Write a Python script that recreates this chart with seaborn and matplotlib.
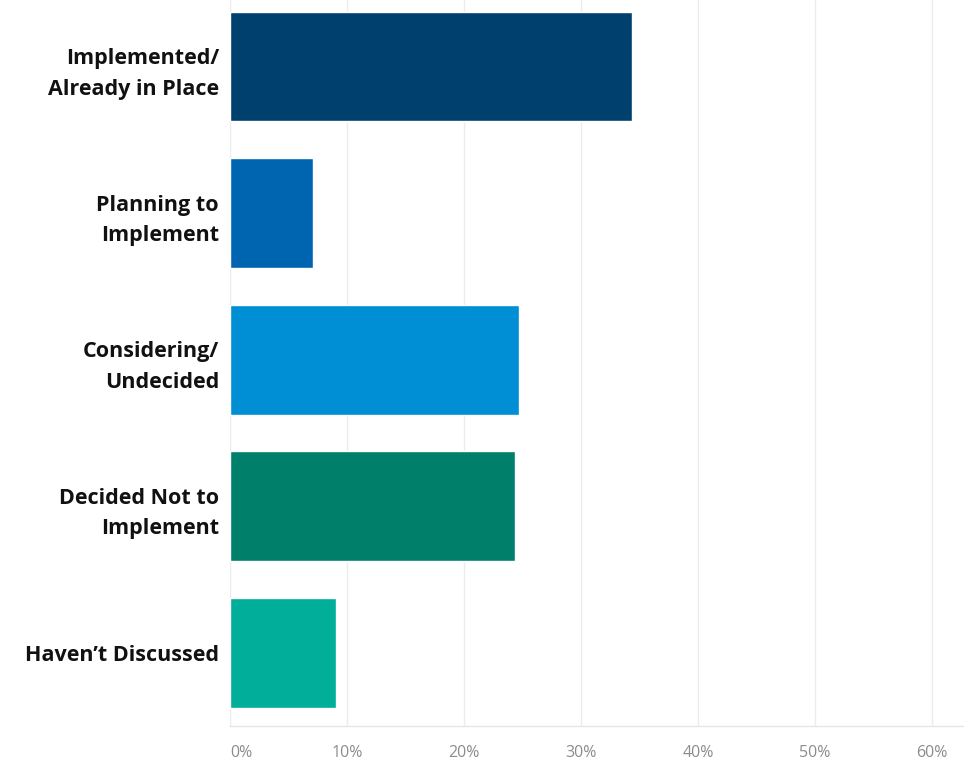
import matplotlib
matplotlib.use("Agg")
import matplotlib.pyplot as plt
import seaborn as sns
import pandas as pd
from matplotlib.ticker import FuncFormatter

categories = ["Implemented/\nAlready in Place", "Planning to\nImplement", "Considering/\nUndecided",
              "Decided Not to\nImplement", "Haven\u2019t Discussed"]
values = [34.4, 7.1, 24.7, 24.4, 9.1]
colors = ["#00406e", "#0065b1", "#008fd5", "#007f6a", "#00ae99"]
xticks = [0, 10, 20, 30, 40, 50, 60]

sns.set_theme(style="white")
plt.rcParams['font.family'] = ['Open Sans', 'DejaVu Sans']

df = pd.DataFrame({"cat": categories, "val": values})

fig = plt.figure(figsize=(9.73, 7.62), dpi=100)
ax = fig.add_axes([230/973, 36/762, 733/973, 726/762])
sns.barplot(data=df, x="val", y="cat", hue="cat", palette=colors, legend=False,
            width=0.75, ax=ax, saturation=1, zorder=3)

ax.set_xlim(0, 62.65)
ax.set_ylim(4.5, -0.454)
ax.set_xticks(xticks)
ax.xaxis.set_major_formatter(FuncFormatter(lambda v, p: f"{int(v)}%"))
ax.set_xlabel("")
ax.set_ylabel("")
for x in xticks:
    ax.axvline(x, color="#ececec", lw=1, zorder=1)
for s in ["top", "right", "left"]:
    ax.spines[s].set_visible(False)
ax.spines["bottom"].set_color("#e6e6e6")
ax.spines["bottom"].set_linewidth(1)
ax.tick_params(axis="x", colors="#9a9a9a", labelsize=11.5, length=14, width=1, direction="out",
               pad=0, color="#ececec")
ax.tick_params(axis="y", length=0, pad=8)
xl = ax.get_xticklabels()
for lab in xl:
    lab.set_color("#8c8c8c")
xl[0].set_horizontalalignment("left")
for lab in ax.get_yticklabels():
    lab.set_fontweight("bold")
    lab.set_fontsize(15.5)
    lab.set_color("#111111")
    lab.set_linespacing(1.6)

fig.savefig("out.png", dpi=100, facecolor="white")
